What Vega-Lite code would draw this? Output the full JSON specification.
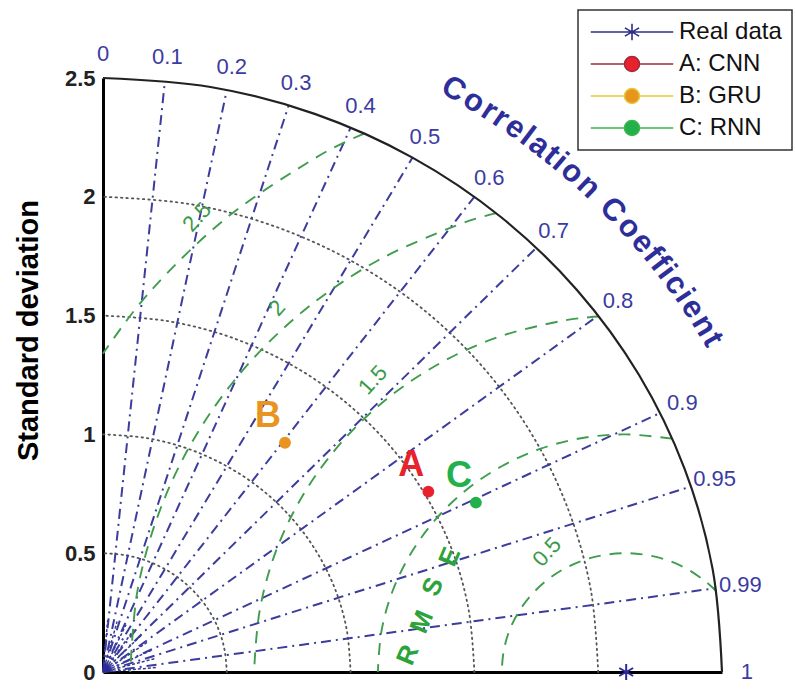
{
"$schema":"https://vega.github.io/schema/vega-lite/v6.json",
"width":619,"height":594,
"autosize":{"type":"none"},
"padding":{"left":103,"top":78,"right":73,"bottom":25},
"background":"white",
"config":{"view":{"stroke":null},"font":"Liberation Sans","axis":{"grid":false}},
"datasets":{
"arcs":[
{"g":"s05","i":0,"x":0.5,"y":0},{"g":"s05","i":1,"x":0.492,"y":0.087},{"g":"s05","i":2,"x":0.47,"y":0.171},{"g":"s05","i":3,"x":0.433,"y":0.25},{"g":"s05","i":4,"x":0.383,"y":0.321},{"g":"s05","i":5,"x":0.321,"y":0.383},{"g":"s05","i":6,"x":0.25,"y":0.433},{"g":"s05","i":7,"x":0.171,"y":0.47},{"g":"s05","i":8,"x":0.087,"y":0.492},{"g":"s05","i":9,"x":0,"y":0.5},
{"g":"s10","i":0,"x":1,"y":0},{"g":"s10","i":1,"x":0.985,"y":0.174},{"g":"s10","i":2,"x":0.94,"y":0.342},{"g":"s10","i":3,"x":0.866,"y":0.5},{"g":"s10","i":4,"x":0.766,"y":0.643},{"g":"s10","i":5,"x":0.643,"y":0.766},{"g":"s10","i":6,"x":0.5,"y":0.866},{"g":"s10","i":7,"x":0.342,"y":0.94},{"g":"s10","i":8,"x":0.174,"y":0.985},{"g":"s10","i":9,"x":0,"y":1},
{"g":"s15","i":0,"x":1.5,"y":0},{"g":"s15","i":1,"x":1.477,"y":0.26},{"g":"s15","i":2,"x":1.41,"y":0.513},{"g":"s15","i":3,"x":1.299,"y":0.75},{"g":"s15","i":4,"x":1.149,"y":0.964},{"g":"s15","i":5,"x":0.964,"y":1.149},{"g":"s15","i":6,"x":0.75,"y":1.299},{"g":"s15","i":7,"x":0.513,"y":1.41},{"g":"s15","i":8,"x":0.26,"y":1.477},{"g":"s15","i":9,"x":0,"y":1.5},
{"g":"s20","i":0,"x":2,"y":0},{"g":"s20","i":1,"x":1.97,"y":0.347},{"g":"s20","i":2,"x":1.879,"y":0.684},{"g":"s20","i":3,"x":1.732,"y":1},{"g":"s20","i":4,"x":1.532,"y":1.286},{"g":"s20","i":5,"x":1.286,"y":1.532},{"g":"s20","i":6,"x":1,"y":1.732},{"g":"s20","i":7,"x":0.684,"y":1.879},{"g":"s20","i":8,"x":0.347,"y":1.97},{"g":"s20","i":9,"x":0,"y":2},
{"g":"outer","i":0,"x":2.5,"y":0},{"g":"outer","i":1,"x":2.462,"y":0.434},{"g":"outer","i":2,"x":2.349,"y":0.855},{"g":"outer","i":3,"x":2.165,"y":1.25},{"g":"outer","i":4,"x":1.915,"y":1.607},{"g":"outer","i":5,"x":1.607,"y":1.915},{"g":"outer","i":6,"x":1.25,"y":2.165},{"g":"outer","i":7,"x":0.855,"y":2.349},{"g":"outer","i":8,"x":0.434,"y":2.462},{"g":"outer","i":9,"x":0,"y":2.5}
],
"rmse":[
{"g":"e05","i":0,"x":2.477,"y":0.34},{"g":"e05","i":1,"x":2.431,"y":0.383},{"g":"e05","i":2,"x":2.36,"y":0.433},{"g":"e05","i":3,"x":2.281,"y":0.47},{"g":"e05","i":4,"x":2.197,"y":0.492},{"g":"e05","i":5,"x":2.11,"y":0.5},{"g":"e05","i":6,"x":2.023,"y":0.492},{"g":"e05","i":7,"x":1.939,"y":0.47},{"g":"e05","i":8,"x":1.86,"y":0.433},{"g":"e05","i":9,"x":1.789,"y":0.383},{"g":"e05","i":10,"x":1.727,"y":0.321},{"g":"e05","i":11,"x":1.677,"y":0.25},{"g":"e05","i":12,"x":1.64,"y":0.171},{"g":"e05","i":13,"x":1.618,"y":0.087},{"g":"e05","i":14,"x":1.61,"y":0},
{"g":"e10","i":0,"x":2.299,"y":0.982},{"g":"e10","i":1,"x":2.11,"y":1},{"g":"e10","i":2,"x":1.936,"y":0.985},{"g":"e10","i":3,"x":1.768,"y":0.94},{"g":"e10","i":4,"x":1.61,"y":0.866},{"g":"e10","i":5,"x":1.467,"y":0.766},{"g":"e10","i":6,"x":1.344,"y":0.643},{"g":"e10","i":7,"x":1.244,"y":0.5},{"g":"e10","i":8,"x":1.17,"y":0.342},{"g":"e10","i":9,"x":1.125,"y":0.174},{"g":"e10","i":10,"x":1.11,"y":0},
{"g":"e15","i":0,"x":2.003,"y":1.496},{"g":"e15","i":1,"x":1.85,"y":1.477},{"g":"e15","i":2,"x":1.597,"y":1.41},{"g":"e15","i":3,"x":1.36,"y":1.299},{"g":"e15","i":4,"x":1.146,"y":1.149},{"g":"e15","i":5,"x":0.961,"y":0.964},{"g":"e15","i":6,"x":0.811,"y":0.75},{"g":"e15","i":7,"x":0.7,"y":0.513},{"g":"e15","i":8,"x":0.633,"y":0.26},{"g":"e15","i":9,"x":0.61,"y":0},
{"g":"e20","i":0,"x":1.588,"y":1.931},{"g":"e20","i":1,"x":1.426,"y":1.879},{"g":"e20","i":2,"x":1.11,"y":1.732},{"g":"e20","i":3,"x":0.824,"y":1.532},{"g":"e20","i":4,"x":0.578,"y":1.286},{"g":"e20","i":5,"x":0.378,"y":1.0},{"g":"e20","i":6,"x":0.231,"y":0.684},{"g":"e20","i":7,"x":0.14,"y":0.347},{"g":"e20","i":8,"x":0.11,"y":0},
{"g":"e25","i":0,"x":1.055,"y":2.266},{"g":"e25","i":1,"x":0.86,"y":2.165},{"g":"e25","i":2,"x":0.503,"y":1.915},{"g":"e25","i":3,"x":0.195,"y":1.607},{"g":"e25","i":4,"x":0,"y":1.34}
],
"rays":[
{"c":"0.1","x":0,"y":0,"xe":0.25,"ye":2.487},{"c":"0.2","x":0,"y":0,"xe":0.5,"ye":2.449},{"c":"0.3","x":0,"y":0,"xe":0.75,"ye":2.385},{"c":"0.4","x":0,"y":0,"xe":1.0,"ye":2.291},{"c":"0.5","x":0,"y":0,"xe":1.25,"ye":2.165},{"c":"0.6","x":0,"y":0,"xe":1.5,"ye":2.0},{"c":"0.7","x":0,"y":0,"xe":1.75,"ye":1.785},{"c":"0.8","x":0,"y":0,"xe":2.0,"ye":1.5},{"c":"0.9","x":0,"y":0,"xe":2.25,"ye":1.09},{"c":"0.95","x":0,"y":0,"xe":2.375,"ye":0.781},{"c":"0.99","x":0,"y":0,"xe":2.475,"ye":0.353}
],
"fan":[
{"x":0,"y":0,"xe":0.219,"ye":0.019},{"x":0,"y":0,"xe":0.2125,"ye":0.0569},{"x":0,"y":0,"xe":0.1994,"ye":0.093},{"x":0,"y":0,"xe":0.1802,"ye":0.1262},{"x":0,"y":0,"xe":0.1556,"ye":0.1556},{"x":0,"y":0,"xe":0.1262,"ye":0.1802},{"x":0,"y":0,"xe":0.093,"ye":0.1994},{"x":0,"y":0,"xe":0.0569,"ye":0.2125},{"x":0,"y":0,"xe":0.019,"ye":0.219}
],
"origin":[{"x":0,"y":0}],
"corrlab":[
{"t":"0","x":0,"y":2.6},{"t":"0.1","x":0.26,"y":2.587},{"t":"0.2","x":0.52,"y":2.547},{"t":"0.3","x":0.78,"y":2.48},{"t":"0.4","x":1.04,"y":2.383},{"t":"0.5","x":1.3,"y":2.252},{"t":"0.6","x":1.56,"y":2.08},{"t":"0.7","x":1.82,"y":1.857},{"t":"0.8","x":2.08,"y":1.56},{"t":"0.9","x":2.34,"y":1.133},{"t":"0.95","x":2.47,"y":0.812},{"t":"0.99","x":2.574,"y":0.367},{"t":"1","x":2.6,"y":0}
],
"ctitle":[
{"ch":"C","x":1.415,"y":2.451,"deg":60.0},{"ch":"o","x":1.498,"y":2.401,"deg":58.0},{"ch":"r","x":1.56,"y":2.361,"deg":56.5},{"ch":"r","x":1.607,"y":2.329,"deg":55.4},{"ch":"e","x":1.664,"y":2.289,"deg":54.0},{"ch":"l","x":1.713,"y":2.253,"deg":52.8},{"ch":"a","x":1.761,"y":2.215,"deg":51.5},{"ch":"t","x":1.811,"y":2.174,"deg":50.2},{"ch":"i","x":1.845,"y":2.145,"deg":49.3},{"ch":"o","x":1.894,"y":2.103,"deg":48.0},{"ch":"n","x":1.96,"y":2.042,"deg":46.2},
{"ch":"C","x":2.058,"y":1.943,"deg":43.4},{"ch":"o","x":2.124,"y":1.87,"deg":41.4},{"ch":"e","x":2.179,"y":1.806,"deg":39.7},{"ch":"f","x":2.219,"y":1.756,"deg":38.3},{"ch":"f","x":2.249,"y":1.718,"deg":37.4},{"ch":"i","x":2.276,"y":1.682,"deg":36.4},{"ch":"c","x":2.312,"y":1.632,"deg":35.2},{"ch":"i","x":2.347,"y":1.582,"deg":34.0},{"ch":"e","x":2.381,"y":1.53,"deg":32.7},{"ch":"n","x":2.426,"y":1.457,"deg":31.0},{"ch":"t","x":2.461,"y":1.398,"deg":29.6}
],
"rmsetxt":[
{"ch":"R","x":1.232,"y":0.072},{"ch":"M","x":1.289,"y":0.211},{"ch":"S","x":1.333,"y":0.358},{"ch":"E","x":1.402,"y":0.484}
],
"rmselab":[
{"t":"0.5","x":1.793,"y":0.505},{"t":"1.5","x":1.09,"y":1.229},{"t":"2","x":0.703,"y":1.532},{"t":"2.5","x":0.38,"y":1.915}
],
"pts":[
{"name":"Real data","letter":"","x":2.113,"y":0},
{"name":"A: CNN","letter":"A","x":1.314,"y":0.759},
{"name":"B: GRU","letter":"B","x":0.735,"y":0.965},
{"name":"C: RNN","letter":"C","x":1.506,"y":0.713}
]
},
"encoding":{
  "x":{"field":"x","type":"quantitative","scale":{"domain":[0,2.5],"nice":false,"zero":false},"axis":{"title":null,"labels":false,"ticks":false,"domainColor":"#000000","domainWidth":3}},
  "y":{"field":"y","type":"quantitative","scale":{"domain":[0,2.5],"nice":false,"zero":false},"axis":{"title":"Standard deviation","values":[0,0.5,1,1.5,2,2.5],"format":"~g","ticks":false,"labelPadding":8,"labelFlush":false,"labelOverlap":false,"labelFontSize":22,"labelFontWeight":"bold","labelColor":"#222222","domainColor":"#000000","domainWidth":3,"titleFontSize":29,"titleFontWeight":"bold","titleColor":"#000000","titleX":-60,"titleY":252,"titleAngle":270,"titleAlign":"center","titleBaseline":"bottom"}}
},
"layer":[
{"data":{"name":"arcs"},"transform":[{"filter":"datum.g !== 'outer'"}],
 "mark":{"type":"line","interpolate":"cardinal","strokeDash":[1.5,4],"strokeWidth":1.8,"color":"#555555","strokeCap":"round"},
 "encoding":{"detail":{"field":"g","type":"nominal"},"order":{"field":"i","type":"quantitative"}}},
{"data":{"name":"fan"},
 "mark":{"type":"rule","strokeDash":[3,2],"strokeWidth":1.5,"color":"#3a3a96"},
 "encoding":{"x2":{"field":"xe"},"y2":{"field":"ye"}}},
{"data":{"name":"rays"},
 "mark":{"type":"rule","strokeDash":[10,5,2,5],"strokeWidth":2,"color":"#3c3c9c"},
 "encoding":{"x2":{"field":"xe"},"y2":{"field":"ye"}}},
{"data":{"name":"rmse"},
 "mark":{"type":"line","interpolate":"cardinal","strokeDash":[12,9],"strokeWidth":1.9,"color":"#3f9d4d"},
 "encoding":{"detail":{"field":"g","type":"nominal"},"order":{"field":"i","type":"quantitative"}}},
{"data":{"name":"arcs"},"transform":[{"filter":"datum.g === 'outer'"}],
 "mark":{"type":"line","interpolate":"cardinal","strokeWidth":2.2,"color":"#222222"},
 "encoding":{"order":{"field":"i","type":"quantitative"}}},
{"data":{"name":"rmsetxt"},
 "mark":{"type":"text","fontSize":26,"fontWeight":"bold","color":"#2ba33a","angle":293,"baseline":"middle","align":"center"},
 "encoding":{"text":{"field":"ch","type":"nominal"}}},
{"data":{"name":"rmselab"},
 "mark":{"type":"text","fontSize":22,"color":"#3a9a48","angle":312,"baseline":"middle","align":"center"},
 "encoding":{"text":{"field":"t","type":"nominal"}}},
{"data":{"name":"corrlab"},
 "mark":{"type":"text","fontSize":22,"color":"#3b3ba3","baseline":"middle","align":"center"},
 "encoding":{"text":{"field":"t","type":"nominal"}}},
{"data":{"name":"ctitle"},
 "mark":{"type":"text","fontSize":31,"fontWeight":"bold","color":"#2e2e9a","baseline":"middle","align":"center"},
 "encoding":{
  "angle":{"field":"deg","type":"quantitative","scale":{"domain":[0,90],"range":[90,0]},"legend":null},
  "text":{"field":"ch","type":"nominal"}}},
{"data":{"name":"origin"},
 "mark":{"type":"point","shape":"circle","filled":true,"size":250,"color":"#2a2a9a","opacity":1,"clip":true}},
{"data":{"name":"pts"},"transform":[{"filter":"datum.name !== 'Real data'"}],
 "mark":{"type":"point","shape":"circle","filled":true,"size":140,"opacity":1},
 "encoding":{
  "color":{"field":"name","type":"nominal","scale":{"domain":["Real data","A: CNN","B: GRU","C: RNN"],"range":["#2b2b8c","#e8222c","#e8941e","#22b04b"]},
   "legend":{"title":null,"orient":"none","legendX":475,"legendY":-68,"padding":10,"strokeColor":"#333333","fillColor":"#ffffff",
    "symbolSize":225,"symbolStrokeWidth":1.5,"symbolOpacity":1,"symbolOffset":32,"labelOffset":35,"rowPadding":8,
    "labelFontSize":24,"labelColor":"#111111","labelLimit":300,
    "encode":{
     "symbols":{"update":{
      "shape":{"signal":"datum.value === 'Real data' ? 'M-5.5,0L5.5,0M0,-1.1L0,1.1M-0.95,-0.55L0.95,0.55M-0.95,0.55L0.95,-0.55' : 'M-5.5,0L-1,0M1,0L5.5,0M-1,0A1,1,0,1,0,1,0A1,1,0,1,0,-1,0Z'"},
      "stroke":{"signal":"datum.value === 'A: CNN' ? '#a02a3c' : datum.value === 'B: GRU' ? '#e3c93a' : datum.value === 'C: RNN' ? '#3db54a' : '#2e2e8a'"},
      "fill":{"signal":"datum.value === 'Real data' ? 'transparent' : scale('color', datum.value)"},
      "strokeWidth":{"value":1.6},"size":{"value":225},"opacity":{"value":1}}},
     "legend":{"update":{"strokeWidth":{"value":1.5}}}}}}}},
{"data":{"name":"pts"},"transform":[{"filter":"datum.name === 'Real data'"}],
 "mark":{"type":"point","shape":"M0,-1L0,1M-0.87,-0.5L0.87,0.5M-0.87,0.5L0.87,-0.5","filled":false,"size":256,"strokeWidth":2,"color":"#2b2b9c","opacity":1}},
{"data":{"name":"pts"},"transform":[{"filter":"datum.name !== 'Real data'"}],
 "mark":{"type":"text","fontSize":36,"fontWeight":"bold","dx":-17,"dy":-27,"baseline":"middle","align":"center"},
 "encoding":{
  "color":{"field":"name","type":"nominal","legend":null},
  "text":{"field":"letter","type":"nominal"}}}
]
}
